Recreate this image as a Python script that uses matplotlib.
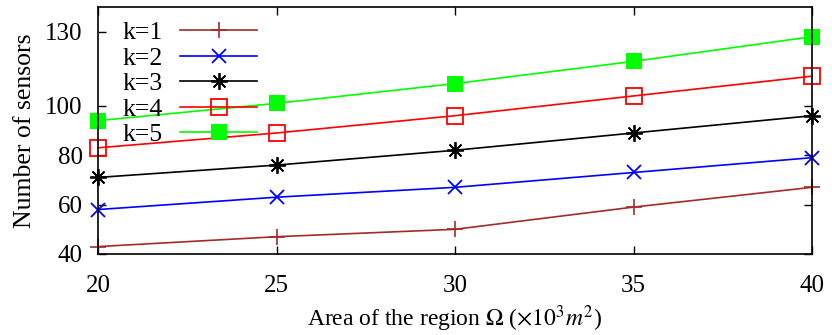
import matplotlib
matplotlib.use("Agg")
import matplotlib.pyplot as plt

plt.rcParams['font.family'] = ['Liberation Serif', 'DejaVu Serif']
plt.rcParams['mathtext.fontset'] = 'stix'

area = [20, 25, 30, 35, 40]
k1 = [43, 47, 50, 59, 67]
k2 = [58, 63, 67, 73, 79]
k3 = [71, 76, 82, 89, 96]
k4 = [83, 89, 96, 104, 112]
k5 = [94, 101, 109, 118, 128]
labels = ['k=1', 'k=2', 'k=3', 'k=4', 'k=5']
xticks = [20, 25, 30, 35, 40]
yticks = [40, 60, 80, 100, 130]

fig = plt.figure(figsize=(8.32, 3.35), dpi=100)
ax = fig.add_axes([0.1178, 0.2418, 0.976 - 0.1178, 0.979 - 0.2418])

asterisk = (8, 2, 0)
styles = [
    dict(color='#a52a2a', marker='+', ms=12, mew=1.2, mfc='none'),
    dict(color='#0000ff', marker='x', ms=10, mew=1.3, mfc='none'),
    dict(color='#000000', marker=asterisk, ms=12, mew=1.3, mfc='none'),
    dict(color='#ff0000', marker='s', ms=11, mew=1.3, mfc='none'),
    dict(color='#00ff00', marker='s', ms=11, mew=0, mfc='#00ff00'),
]
for ys, lab, st in zip([k1, k2, k3, k4, k5], labels, styles):
    ax.plot(area, ys, lw=1.2, label=lab, clip_on=False, **st)

ax.set_xlim(20, 40)
ax.set_ylim(40, 140)
ax.set_xticks(xticks)
ax.set_yticks(yticks)
ax.tick_params(direction='in', top=True, right=True, length=6, width=1, labelsize=18)
ax.tick_params(axis='x', pad=15)
ax.tick_params(axis='y', pad=11)
for s in ax.spines.values():
    s.set_linewidth(1.2)

ax.set_xlabel(r'Area of the region $\Omega$ ($\times10^3m^2$)', fontsize=17, labelpad=5)
ax.set_ylabel('Number of sensors', fontsize=18.5, labelpad=7)

leg = ax.legend(loc='upper left', bbox_to_anchor=(24 / 714, 1 - 14 / 247), frameon=False,
                markerfirst=False, fontsize=18.5, handlelength=3.0,
                labelspacing=0.1, handletextpad=0.7, borderaxespad=0, borderpad=0)

fig.savefig('out.png', dpi=100)
